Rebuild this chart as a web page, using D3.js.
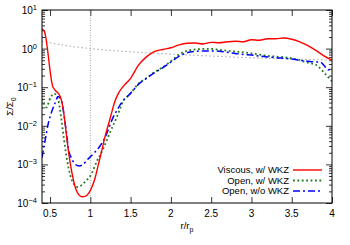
<!DOCTYPE html>
<html>
<head>
<meta charset="utf-8">
<script src="https://cdn.jsdelivr.net/npm/d3@7"></script>
<style>
  body { margin: 0; background: #fff; }
  text { font-family: "Liberation Sans", Arial, sans-serif; }
</style>
</head>
<body>
<div id="plot"></div>
<script>
// radius values (r/rp) and surface density ratios
const rViscous = [0.40,0.43,0.45,0.47,0.49,0.51,0.53,0.56,0.60,0.63,0.66,0.69,0.72,0.75,0.78,0.82,0.86,0.90,0.94,0.98,1.02,1.06,1.10,1.14,1.18,1.22,1.26,1.30,1.35,1.40,1.45,1.50,1.60,1.70,1.80,1.90,2.00,2.10,2.20,2.30,2.40,2.50,2.60,2.70,2.80,2.90,3.00,3.10,3.20,3.30,3.40,3.50,3.60,3.70,3.80,3.90,4.00];
const sViscous = [3.2,2.8,1.8,0.9,0.4,0.19,0.11,0.085,0.07,0.055,0.03,0.01,0.003,0.0011,0.0005,0.00023,0.00016,0.000145,0.00015,0.00018,0.00026,0.00045,0.001,0.0022,0.005,0.01,0.02,0.04,0.07,0.1,0.13,0.17,0.38,0.62,0.85,0.95,1.05,1.25,1.38,1.4,1.32,1.45,1.42,1.5,1.55,1.5,1.7,1.65,1.8,1.8,1.88,1.75,1.5,1.2,0.9,0.65,0.5];

const rOpenW = [0.40,0.43,0.46,0.49,0.52,0.55,0.58,0.61,0.64,0.67,0.70,0.73,0.76,0.80,0.84,0.88,0.92,0.96,1.00,1.04,1.08,1.12,1.16,1.20,1.24,1.28,1.33,1.37,1.41,1.45,1.50,1.60,1.70,1.80,1.90,2.00,2.10,2.20,2.30,2.40,2.50,2.60,2.70,2.80,2.90,3.00,3.10,3.20,3.30,3.40,3.50,3.60,3.70,3.80,3.90,4.00];
const sOpenW = [0.05,0.035,0.03,0.045,0.06,0.068,0.06,0.04,0.015,0.005,0.0018,0.0008,0.00045,0.0003,0.00026,0.00028,0.00033,0.0004,0.0005,0.00075,0.0012,0.0017,0.0026,0.004,0.0064,0.01,0.017,0.028,0.045,0.055,0.07,0.125,0.175,0.25,0.33,0.47,0.7,0.88,0.95,0.98,0.98,0.93,0.88,0.84,0.8,0.75,0.7,0.65,0.62,0.6,0.56,0.5,0.43,0.38,0.24,0.14];

const rOpenWo = [0.40,0.44,0.48,0.52,0.56,0.60,0.64,0.67,0.70,0.73,0.77,0.80,0.86,0.90,0.96,1.04,1.12,1.20,1.24,1.28,1.33,1.37,1.41,1.45,1.50,1.60,1.70,1.80,1.90,2.00,2.10,2.20,2.30,2.40,2.50,2.60,2.70,2.80,2.90,3.00,3.10,3.20,3.30,3.40,3.50,3.60,3.70,3.80,3.85,3.90,3.95,4.00];
const sOpenWo = [0.0015,0.0043,0.012,0.023,0.038,0.057,0.047,0.021,0.0075,0.0024,0.0014,0.00107,0.00091,0.00096,0.0013,0.0019,0.003,0.006,0.01,0.016,0.025,0.035,0.046,0.055,0.07,0.12,0.17,0.24,0.32,0.45,0.63,0.78,0.85,0.87,0.87,0.86,0.8,0.75,0.7,0.68,0.64,0.61,0.58,0.56,0.54,0.5,0.47,0.45,0.45,0.37,0.28,0.31];

const rInit = [0.4,0.5,0.6,0.8,1.0,1.25,1.5,1.75,2.0,2.5,3.0,3.5,4.0];
const sInit = [1.55,1.42,1.3,1.12,1.0,0.9,0.83,0.77,0.72,0.64,0.58,0.54,0.5];

const xTicks = [0.5,1,1.5,2,2.5,3,3.5,4];
const yExps = [1,0,-1,-2,-3,-4];

const legendNames = ["Viscous, w/ WKZ", "Open, w/ WKZ", "Open, w/o WKZ"];

const width = 350, height = 245;
const margin = { top: 10, right: 18, bottom: 42, left: 42 };

const svg = d3.select('#plot').append('svg')
  .attr('width', width)
  .attr('height', height);

const x = d3.scaleLinear().domain([0.4, 4]).range([margin.left, width - margin.right]);
const y = d3.scaleLog().domain([1e-4, 10]).range([height - margin.bottom, margin.top]);

// minor ticks for the log axis
const minor = [];
for (let e = -4; e < 1; e++) {
  for (let k = 2; k < 10; k++) minor.push(k * Math.pow(10, e));
}
const major = yExps.map(e => Math.pow(10, e));

function styleAxis(g) {
  g.select('.domain').remove();
  g.selectAll('.tick line').attr('stroke', '#000').attr('stroke-width', 0.8);
  g.selectAll('.tick text').remove();
}

svg.append('g').attr('transform', `translate(${margin.left},0)`)
  .call(d3.axisLeft(y).tickValues(minor).tickSize(-3)).call(styleAxis);
svg.append('g').attr('transform', `translate(${margin.left},0)`)
  .call(d3.axisLeft(y).tickValues(major).tickSize(-6)).call(styleAxis);
svg.append('g').attr('transform', `translate(${width - margin.right},0)`)
  .call(d3.axisRight(y).tickValues(minor).tickSize(-3)).call(styleAxis);
svg.append('g').attr('transform', `translate(${width - margin.right},0)`)
  .call(d3.axisRight(y).tickValues(major).tickSize(-6)).call(styleAxis);
svg.append('g').attr('transform', `translate(0,${height - margin.bottom})`)
  .call(d3.axisBottom(x).tickValues(xTicks).tickSize(-6)).call(styleAxis);
svg.append('g').attr('transform', `translate(0,${margin.top})`)
  .call(d3.axisTop(x).tickValues(xTicks).tickSize(-6)).call(styleAxis);

// y tick labels 10^n
major.forEach((v, i) => {
  const t = svg.append('text')
    .attr('x', margin.left - 5)
    .attr('y', y(v) + 4)
    .attr('text-anchor', 'end')
    .attr('font-size', '10px');
  t.append('tspan').text('10');
  t.append('tspan').attr('dy', -4).attr('font-size', '7.5px')
    .text(yExps[i] < 0 ? '\u2212' + (-yExps[i]) : yExps[i]);
});

// x tick labels
xTicks.forEach(v => {
  svg.append('text')
    .attr('x', x(v))
    .attr('y', height - margin.bottom + 14)
    .attr('text-anchor', 'middle')
    .attr('font-size', '10px')
    .text(v);
});

// axis titles
const xt = svg.append('text')
  .attr('x', (margin.left + width - margin.right) / 2)
  .attr('y', height - margin.bottom + 26)
  .attr('text-anchor', 'middle')
  .attr('font-size', '9.5px');
xt.append('tspan').text('r/r');
xt.append('tspan').attr('dy', 2.5).attr('font-size', '7px').text('p');

const yt = svg.append('text')
  .attr('transform', `translate(13,${(margin.top + height - margin.bottom) / 2}) rotate(-90)`)
  .attr('text-anchor', 'middle')
  .attr('font-size', '9.5px');
yt.append('tspan').text('\u03a3/\u03a3');
yt.append('tspan').attr('dy', 2.5).attr('font-size', '7px').text('0');

// vertical dotted line at r = rp
svg.append('line')
  .attr('x1', x(1)).attr('x2', x(1))
  .attr('y1', margin.top).attr('y2', height - margin.bottom)
  .attr('stroke', '#777').attr('stroke-width', 0.7)
  .attr('stroke-dasharray', '1,1.5');

const line = d3.line()
  .x(d => x(d[0]))
  .y(d => y(d[1]))
  .curve(d3.curveMonotoneX);

const series = [
  { r: rInit, s: sInit, color: '#aaaaaa', width: 1.1, dash: '1.5,2.5' },
  { r: rOpenW, s: sOpenW, color: '#1f7a1f', width: 1.8, dash: '1.8,2.6' },
  { r: rOpenWo, s: sOpenWo, color: '#0000ff', width: 1.5, dash: '7,3,2,3' },
  { r: rViscous, s: sViscous, color: '#ff0000', width: 1.4, dash: null }
];

svg.append('clipPath').attr('id', 'clip').append('rect')
  .attr('x', margin.left).attr('y', margin.top)
  .attr('width', width - margin.left - margin.right)
  .attr('height', height - margin.top - margin.bottom);

series.forEach(sr => {
  svg.append('path')
    .datum(sr.r.map((r, i) => [r, sr.s[i]]))
    .attr('clip-path', 'url(#clip)')
    .attr('fill', 'none')
    .attr('stroke', sr.color)
    .attr('stroke-width', sr.width)
    .attr('stroke-dasharray', sr.dash)
    .attr('d', line);
});

// frame
svg.append('rect')
  .attr('x', margin.left).attr('y', margin.top)
  .attr('width', width - margin.left - margin.right)
  .attr('height', height - margin.top - margin.bottom)
  .attr('fill', 'none').attr('stroke', '#000').attr('stroke-width', 1);

// legend
const legendStyles = [series[3], series[1], series[2]];
legendNames.forEach((name, i) => {
  const ly = 170 + i * 10.5;
  svg.append('text')
    .attr('x', 289).attr('y', ly + 3.3)
    .attr('text-anchor', 'end')
    .attr('font-size', '9.5px')
    .text(name);
  svg.append('line')
    .attr('x1', 293).attr('x2', 322)
    .attr('y1', ly).attr('y2', ly)
    .attr('stroke', legendStyles[i].color)
    .attr('stroke-width', legendStyles[i].width)
    .attr('stroke-dasharray', legendStyles[i].dash);
});
</script>
</body>
</html>
